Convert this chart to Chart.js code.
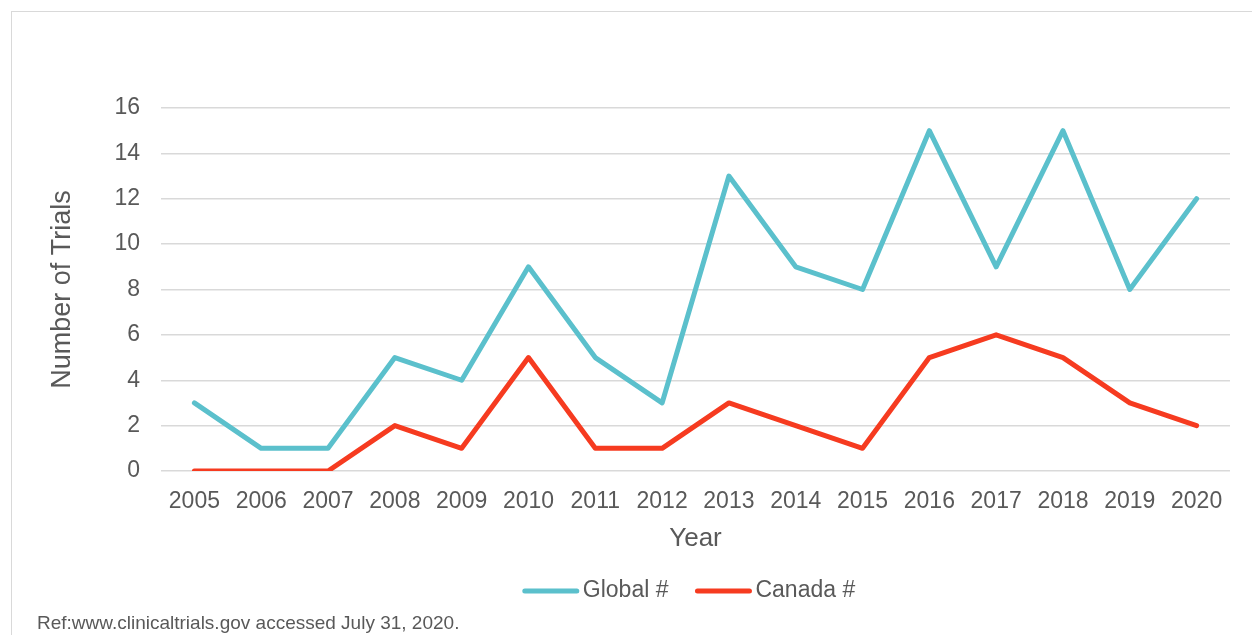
<!DOCTYPE html>
<html>
<head>
<meta charset="utf-8">
<script src="https://cdn.jsdelivr.net/npm/chart.js@4.4.0/dist/chart.umd.min.js"></script>
<style>
  html, body { margin: 0; padding: 0; background: #fff; overflow: hidden; }
  #wrap { position: relative; width: 1252px; height: 635px; }
  #frame { position: absolute; left: 11px; top: 11px; width: 1400px; height: 800px;
           border-left: 1.5px solid #d9d9d9; border-top: 1.5px solid #d9d9d9; }
  #ref { position: absolute; left: 37px; top: 612px; font: 19px "Liberation Sans", Arial, sans-serif;
         color: #595959; white-space: nowrap; }
  canvas { position: absolute; left: 0; top: 0; }
</style>
</head>
<body>
<div id="wrap">
  <div id="frame"></div>
  <canvas id="chart" width="1252" height="635"></canvas>
  <div id="ref">Ref:www.clinicaltrials.gov accessed July 31, 2020.</div>
</div>
<script>
// data
const years = ['2005', '2006', '2007', '2008', '2009', '2010', '2011', '2012',
               '2013', '2014', '2015', '2016', '2017', '2018', '2019', '2020'];
const globalTrials = [3, 1, 1, 5, 4, 9, 5, 3, 13, 9, 8, 15, 9, 15, 8, 12];
const canadaTrials = [0, 0, 0, 2, 1, 5, 1, 1, 3, 2, 1, 5, 6, 5, 3, 2];
const seriesLabels = ['Global #', 'Canada #'];
const seriesColors = ['#5bc0cc', '#f63b20'];

const FONT = '"Liberation Sans", Arial, sans-serif';
const TEXT = '#595959';

// legend drawn by hand so it can sit centred under the plot, not the canvas
const bottomLegend = {
    id: 'bottomLegend',
    afterDraw(chart) {
        const ctx = chart.ctx;
        const lineLen = 56, gapText = 4, gapItem = 27, y = 591;
        ctx.save();
        ctx.font = '23px ' + FONT;
        const items = chart.data.datasets.map(ds => ({
            label: ds.label, color: ds.borderColor,
            w: lineLen + gapText + ctx.measureText(ds.label).width,
        }));
        const total = items.reduce((s, it) => s + it.w, 0) + gapItem * (items.length - 1);
        let x = 689 - total / 2;
        for (const it of items) {
            ctx.strokeStyle = it.color;
            ctx.lineWidth = 5;
            ctx.lineCap = 'round';
            ctx.beginPath();
            ctx.moveTo(x + 2, y);
            ctx.lineTo(x + lineLen - 2, y);
            ctx.stroke();
            ctx.fillStyle = TEXT;
            ctx.textBaseline = 'middle';
            ctx.textAlign = 'left';
            ctx.fillText(it.label, x + lineLen + gapText, y);
            x += it.w + gapItem;
        }
        ctx.restore();
    }
};

new Chart(document.getElementById('chart'), {
    type: 'line',
    data: {
        labels: years,
        datasets: [
            { label: seriesLabels[0], data: globalTrials, borderColor: seriesColors[0] },
            { label: seriesLabels[1], data: canadaTrials, borderColor: seriesColors[1] },
        ],
    },
    options: {
        responsive: false,
        animation: false,
        layout: { padding: { left: 10, right: 22, top: 108, bottom: 77 } },
        elements: {
            line: { borderWidth: 5, tension: 0, borderCapStyle: 'round', borderJoinStyle: 'round', fill: false },
            point: { radius: 0, hoverRadius: 0 },
        },
        plugins: { legend: { display: false }, tooltip: { enabled: false } },
        scales: {
            x: {
                offset: true,
                grid: { display: false },
                border: { display: false },
                ticks: { color: TEXT, font: { family: FONT, size: 23 }, padding: 9, maxRotation: 0, autoSkip: false },
                title: { display: true, text: 'Year', color: TEXT, font: { family: FONT, size: 26 }, padding: { top: 6 } },
                afterFit(s) { s.height = 87; },
            },
            y: {
                min: 0, max: 16,
                ticks: { stepSize: 2, color: TEXT, font: { family: FONT, size: 23 }, padding: 21 },
                grid: { color: '#d9d9d9', lineWidth: 1.5, drawTicks: false },
                border: { display: false },
                title: { display: true, text: 'Number of Trials', color: TEXT, font: { family: FONT, size: 27 }, padding: { top: 36 } },
                afterFit(s) { s.width = 151; },
            },
        },
    },
    plugins: [bottomLegend],
});
</script>
</body>
</html>
